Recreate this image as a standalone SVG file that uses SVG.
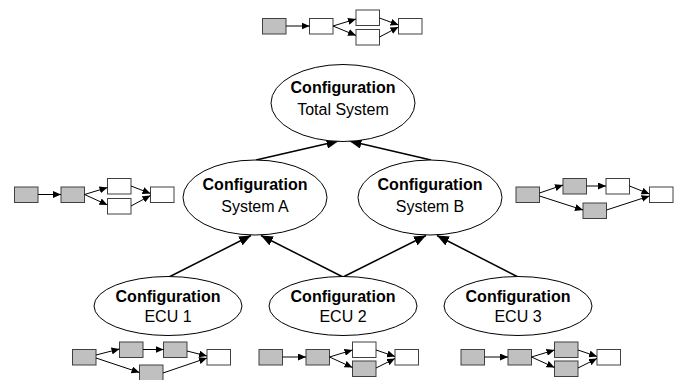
<svg xmlns="http://www.w3.org/2000/svg" width="681" height="380" viewBox="0 0 681 380">
<style>
.bg{fill:#ffffff}
.node ellipse{fill:#ffffff;stroke:#000000;stroke-width:1}
.t1{font-family:"Liberation Sans",Arial,sans-serif;font-size:16px;font-weight:bold;text-anchor:middle;fill:#000}
.t2{font-family:"Liberation Sans",Arial,sans-serif;font-size:16px;text-anchor:middle;fill:#000}
.big{stroke:#000;stroke-width:1.5;fill:none;marker-end:url(#ah)}
.sm{stroke:#000;stroke-width:1;fill:none;marker-end:url(#sh)}
.g{fill:#c0c0c0;stroke:#404040;stroke-width:1}
.w{fill:#ffffff;stroke:#404040;stroke-width:1}
</style>
<defs>
<marker id="ah" markerUnits="userSpaceOnUse" markerWidth="12" markerHeight="10" refX="12" refY="5" orient="auto" viewBox="0 0 12 10">
<path d="M0,0 L12,5 L0,10 z" fill="#000"/>
</marker>
<marker id="sh" markerUnits="userSpaceOnUse" markerWidth="8" markerHeight="7" refX="8" refY="3.5" orient="auto" viewBox="0 0 8 7">
<path d="M0,0 L8,3.5 L0,7 z" fill="#000"/>
</marker>
</defs>
<rect class="bg" x="0" y="0" width="681" height="380"/>

<g id="connectors">
<line class="big" x1="256" y1="160" x2="338.5" y2="141"/>
<line class="big" x1="431" y1="160" x2="349.5" y2="141"/>
<line class="big" x1="169" y1="277" x2="251" y2="235.5"/>
<line class="big" x1="343" y1="277" x2="261" y2="235.5"/>
<line class="big" x1="343" y1="277" x2="426" y2="235.5"/>
<line class="big" x1="518" y1="277" x2="437" y2="235.5"/>
</g>

<g id="node-total" class="node">
<ellipse cx="343" cy="103" rx="72" ry="38.5"/>
<text class="t1" x="343" y="93">Configuration</text>
<text class="t2" x="343" y="115">Total System</text>
</g>
<g id="node-systemA" class="node">
<ellipse cx="255" cy="197.5" rx="72" ry="37.5"/>
<text class="t1" x="255" y="190">Configuration</text>
<text class="t2" x="255" y="212">System A</text>
</g>
<g id="node-systemB" class="node">
<ellipse cx="430" cy="197.5" rx="72" ry="37.5"/>
<text class="t1" x="430" y="190">Configuration</text>
<text class="t2" x="430" y="212">System B</text>
</g>
<g id="node-ecu1" class="node">
<ellipse cx="168" cy="306" rx="74" ry="29.5"/>
<text class="t1" x="168" y="302">Configuration</text>
<text class="t2" x="168" y="322">ECU 1</text>
</g>
<g id="node-ecu2" class="node">
<ellipse cx="343" cy="306" rx="74" ry="29.5"/>
<text class="t1" x="343" y="302">Configuration</text>
<text class="t2" x="343" y="322">ECU 2</text>
</g>
<g id="node-ecu3" class="node">
<ellipse cx="518" cy="306" rx="74" ry="29.5"/>
<text class="t1" x="518" y="302">Configuration</text>
<text class="t2" x="518" y="322">ECU 3</text>
</g>

<g id="mini-total">
<rect class="g" x="262.5" y="18.5" width="23.5" height="15.5"/>
<rect class="w" x="309.5" y="18.5" width="23.5" height="15.5"/>
<rect class="w" x="356" y="10" width="23.5" height="15.5"/>
<rect class="w" x="356" y="29.5" width="23.5" height="15.5"/>
<rect class="w" x="398.5" y="18.5" width="23.5" height="15.5"/>
<line class="sm" x1="286" y1="26" x2="309.5" y2="26"/>
<line class="sm" x1="333" y1="26" x2="356" y2="19"/>
<line class="sm" x1="333" y1="26" x2="356" y2="35.5"/>
<line class="sm" x1="379.5" y1="18" x2="398.5" y2="25"/>
<line class="sm" x1="379.5" y1="37" x2="398.5" y2="27"/>
</g>

<g id="mini-systemA">
<rect class="g" x="14.5" y="187" width="23.5" height="15.5"/>
<rect class="g" x="61" y="187" width="23.5" height="15.5"/>
<rect class="w" x="107.5" y="178.5" width="23.5" height="15.5"/>
<rect class="w" x="107.5" y="198.5" width="23.5" height="15.5"/>
<rect class="w" x="150.5" y="187" width="23.5" height="15.5"/>
<line class="sm" x1="38" y1="194.5" x2="61" y2="194.5"/>
<line class="sm" x1="84.5" y1="194.5" x2="107.5" y2="187.5"/>
<line class="sm" x1="84.5" y1="194.5" x2="107.5" y2="205"/>
<line class="sm" x1="131" y1="186" x2="150.5" y2="193.5"/>
<line class="sm" x1="131" y1="206" x2="150.5" y2="195.5"/>
</g>

<g id="mini-systemB">
<rect class="g" x="516" y="187" width="23.5" height="15.5"/>
<rect class="g" x="563" y="178.5" width="23.5" height="15.5"/>
<rect class="w" x="606" y="178.5" width="23.5" height="15.5"/>
<rect class="g" x="583" y="203" width="23.5" height="15.5"/>
<rect class="w" x="649.5" y="187" width="23.5" height="15.5"/>
<line class="sm" x1="539.5" y1="193" x2="563" y2="185"/>
<line class="sm" x1="539.5" y1="196" x2="583" y2="210"/>
<line class="sm" x1="586.5" y1="186" x2="606" y2="186"/>
<line class="sm" x1="629.5" y1="186" x2="649.5" y2="194"/>
<line class="sm" x1="606.5" y1="210" x2="649.5" y2="196"/>
</g>

<g id="mini-ecu1">
<rect class="g" x="72.5" y="349.5" width="23.5" height="15.5"/>
<rect class="g" x="119.5" y="342" width="23.5" height="15.5"/>
<rect class="g" x="163.5" y="342" width="23.5" height="15.5"/>
<rect class="g" x="139.5" y="365" width="23.5" height="15.5"/>
<rect class="w" x="207" y="349.5" width="23.5" height="15.5"/>
<line class="sm" x1="96" y1="355" x2="119.5" y2="349"/>
<line class="sm" x1="96" y1="358" x2="139.5" y2="372.5"/>
<line class="sm" x1="143" y1="349.5" x2="163.5" y2="349.5"/>
<line class="sm" x1="187" y1="351" x2="207" y2="356"/>
<line class="sm" x1="163" y1="373" x2="207" y2="358"/>
</g>

<g id="mini-ecu2">
<rect class="g" x="259" y="349.5" width="23.5" height="15.5"/>
<rect class="g" x="306" y="349.5" width="23.5" height="15.5"/>
<rect class="w" x="352.5" y="342" width="23.5" height="15.5"/>
<rect class="g" x="352.5" y="361" width="23.5" height="15.5"/>
<rect class="w" x="395" y="349.5" width="23.5" height="15.5"/>
<line class="sm" x1="282.5" y1="357" x2="306" y2="357"/>
<line class="sm" x1="329.5" y1="357" x2="352.5" y2="350"/>
<line class="sm" x1="329.5" y1="357" x2="352.5" y2="367.5"/>
<line class="sm" x1="376" y1="350" x2="395" y2="356.5"/>
<line class="sm" x1="376" y1="368" x2="395" y2="358.5"/>
</g>

<g id="mini-ecu3">
<rect class="g" x="461" y="349.5" width="23.5" height="15.5"/>
<rect class="g" x="508" y="349.5" width="23.5" height="15.5"/>
<rect class="g" x="554.5" y="342" width="23.5" height="15.5"/>
<rect class="g" x="554.5" y="361" width="23.5" height="15.5"/>
<rect class="w" x="597" y="349.5" width="23.5" height="15.5"/>
<line class="sm" x1="484.5" y1="357" x2="508" y2="357"/>
<line class="sm" x1="531.5" y1="357" x2="554.5" y2="350"/>
<line class="sm" x1="531.5" y1="357" x2="554.5" y2="367.5"/>
<line class="sm" x1="578" y1="350" x2="597" y2="356.5"/>
<line class="sm" x1="578" y1="368" x2="597" y2="358.5"/>
</g>
</svg>
